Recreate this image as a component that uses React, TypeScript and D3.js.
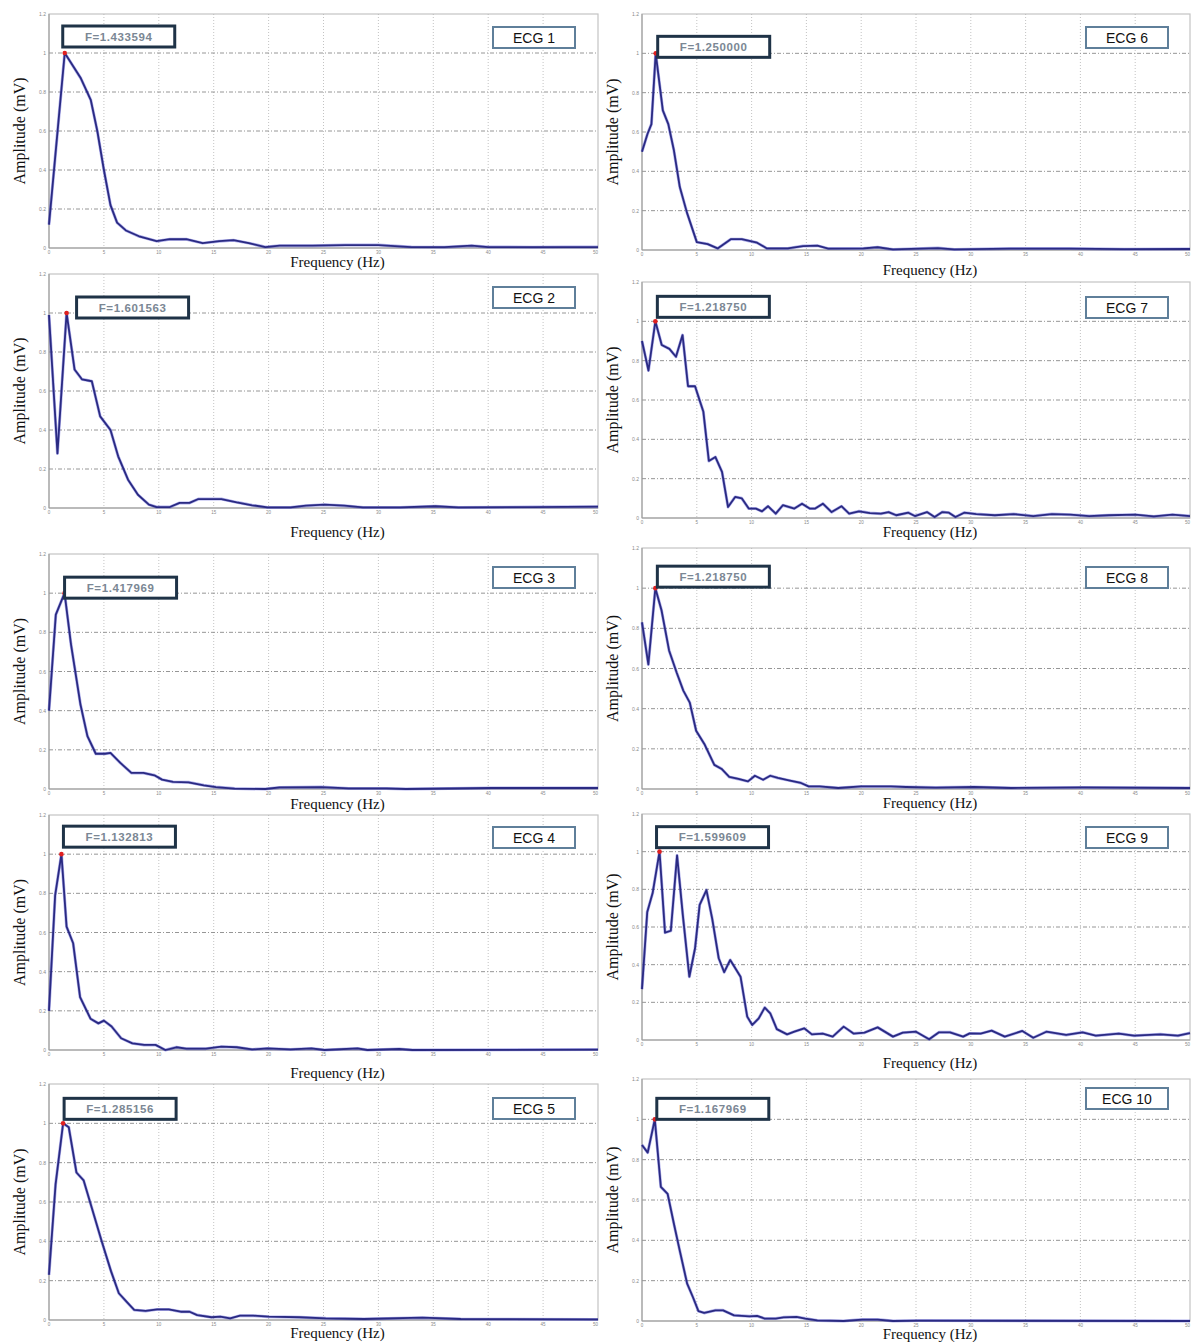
import React from 'react'
import * as d3 from 'd3'

// peak frequency (Hz) of each spectrum, as printed in the F= boxes
const peakFreqs = [1.433594, 1.601563, 1.417969, 1.132813, 1.285156, 1.25, 1.21875, 1.21875, 1.599609, 1.167969]
const ecgNames = ['ECG 1', 'ECG 2', 'ECG 3', 'ECG 4', 'ECG 5', 'ECG 6', 'ECG 7', 'ECG 8', 'ECG 9', 'ECG 10']

const yTicks = [0, 0.2, 0.4, 0.6, 0.8, 1, 1.2]
const xTicks = [0, 5, 10, 15, 20, 25, 30, 35, 40, 45, 50]

// [frequency Hz, normalised amplitude]
const ecg1 = [[0, 0.12], [1.433594, 1.0], [2.9, 0.87], [3.8, 0.76], [4.4, 0.6], [5.0, 0.4], [5.6, 0.22], [6.2, 0.13], [7.0, 0.09], [8.2, 0.06], [9.8, 0.035], [11, 0.045], [12.5, 0.045], [14, 0.025], [15.5, 0.035], [16.8, 0.04], [18.2, 0.025], [19.7, 0.005], [21, 0.012], [24, 0.012], [27, 0.015], [30, 0.015], [33, 0.005], [36, 0.004], [38.5, 0.012], [40, 0.005], [44, 0.004], [47, 0.005], [50, 0.005]]
const ecg2 = [[0, 0.99], [0.77, 0.28], [1.601563, 1.0], [2.33, 0.71], [3.0, 0.66], [3.9, 0.65], [4.66, 0.47], [5.6, 0.4], [6.3, 0.265], [7.2, 0.145], [8.1, 0.068], [9.1, 0.017], [9.8, 0.005], [11, 0.005], [11.9, 0.026], [12.8, 0.026], [13.6, 0.046], [15.7, 0.046], [17.1, 0.029], [18.5, 0.014], [19.9, 0.003], [22, 0.003], [23.4, 0.012], [25.1, 0.017], [26.9, 0.012], [28.6, 0.003], [32, 0.003], [35.2, 0.009], [37.3, 0.003], [44, 0.005], [50, 0.007]]
const ecg3 = [[0, 0.4], [0.62, 0.89], [1.417969, 1.0], [2, 0.74], [2.87, 0.43], [3.5, 0.27], [4.26, 0.18], [5.1, 0.18], [5.6, 0.184], [6.5, 0.133], [7.5, 0.082], [8.6, 0.082], [9.6, 0.07], [10.3, 0.048], [11.3, 0.036], [12.7, 0.034], [14.1, 0.019], [15.2, 0.01], [16.9, 0.002], [19.7, 0.0], [21, 0.008], [24.8, 0.01], [27.3, 0.003], [30.7, 0.003], [32.5, 0], [40.4, 0.005], [50, 0.005]]
const ecg4 = [[0, 0.2], [0.56, 0.79], [1.132813, 1.0], [1.6, 0.63], [2.2, 0.545], [2.83, 0.27], [3.78, 0.16], [4.5, 0.136], [5, 0.15], [5.7, 0.12], [6.57, 0.06], [7.6, 0.034], [8.67, 0.026], [9.7, 0.026], [10.6, 0.0], [11.6, 0.014], [12.5, 0.007], [14.3, 0.007], [15.7, 0.017], [17.1, 0.014], [18.5, 0.003], [19.9, 0.008], [22, 0.003], [23.9, 0.008], [25.1, 0], [28.1, 0.008], [29, 0], [31.9, 0.005], [33.1, 0], [50, 0.002]]
const ecg5 = [[0, 0.23], [0.6, 0.69], [1.285156, 1.0], [1.8, 0.98], [2.5, 0.75], [3.15, 0.71], [3.9, 0.57], [4.8, 0.4], [5.66, 0.246], [6.36, 0.136], [7.06, 0.093], [7.76, 0.051], [8.8, 0.046], [9.86, 0.054], [10.9, 0.054], [12, 0.042], [12.8, 0.042], [13.5, 0.025], [14.8, 0.014], [15.6, 0.017], [16.5, 0.0085], [17.4, 0.022], [18.6, 0.022], [20, 0.017], [22.8, 0.014], [25.2, 0.0085], [28.7, 0.005], [34, 0.012], [37.5, 0.005], [50, 0.003]]
const ecg6 = [[0, 0.5], [0.5, 0.59], [0.86, 0.64], [1.25, 1.0], [1.9, 0.71], [2.4, 0.64], [2.9, 0.51], [3.45, 0.32], [4.1, 0.19], [5.0, 0.04], [6.0, 0.03], [6.9, 0.008], [8.1, 0.055], [9.1, 0.055], [10.5, 0.037], [11.4, 0.008], [13.3, 0.008], [14.7, 0.02], [16, 0.022], [17, 0.007], [20.2, 0.008], [21.5, 0.014], [22.9, 0.003], [27, 0.01], [28.5, 0.003], [33.6, 0.007], [39, 0.007], [44, 0.004], [50, 0.005]]
const ecg7 = [[0, 0.9], [0.59, 0.75], [1.21875, 1.0], [1.8, 0.88], [2.5, 0.86], [3.1, 0.82], [3.7, 0.93], [4.2, 0.67], [4.84, 0.67], [5.6, 0.54], [6.1, 0.29], [6.7, 0.31], [7.3, 0.235], [7.85, 0.056], [8.5, 0.107], [9.1, 0.1], [9.74, 0.048], [10.4, 0.048], [10.95, 0.034], [11.5, 0.06], [12.2, 0.022], [12.85, 0.065], [13.9, 0.048], [14.6, 0.073], [15.3, 0.048], [15.8, 0.048], [16.5, 0.073], [17.3, 0.03], [18.2, 0.06], [18.9, 0.022], [19.8, 0.034], [20.8, 0.025], [21.8, 0.022], [22.5, 0.03], [23.2, 0.014], [24.3, 0.027], [24.9, 0.01], [26, 0.03], [26.7, 0.005], [27.4, 0.03], [28, 0.027], [28.6, 0.005], [29.4, 0.027], [30.5, 0.02], [32.2, 0.014], [33.9, 0.02], [35.7, 0.01], [37.4, 0.02], [39.1, 0.017], [40.8, 0.01], [42.6, 0.014], [45, 0.017], [46.7, 0.008], [48.4, 0.017], [50, 0.01]]
const ecg8 = [[0, 0.83], [0.58, 0.62], [1.21875, 1.0], [1.78, 0.89], [2.47, 0.69], [3.16, 0.58], [3.77, 0.49], [4.36, 0.43], [4.94, 0.29], [5.73, 0.22], [6.6, 0.12], [7.27, 0.1], [7.96, 0.06], [8.8, 0.05], [9.67, 0.038], [10.3, 0.066], [11.05, 0.046], [11.7, 0.066], [12.4, 0.055], [13.4, 0.043], [14.5, 0.03], [15.2, 0.013], [16.2, 0.013], [17.9, 0.005], [20, 0.013], [22.7, 0.013], [24.1, 0.01], [26.8, 0.007], [30.3, 0.01], [33.7, 0.005], [40.2, 0.008], [50, 0.005]]
const ecg9 = [[0, 0.27], [0.48, 0.68], [0.97, 0.78], [1.599609, 1.0], [2.1, 0.57], [2.63, 0.58], [3.2, 0.98], [3.73, 0.66], [4.32, 0.336], [4.84, 0.487], [5.26, 0.717], [5.88, 0.796], [6.4, 0.646], [7.0, 0.434], [7.5, 0.36], [8.05, 0.425], [8.99, 0.336], [9.6, 0.124], [10.06, 0.08], [10.65, 0.115], [11.2, 0.172], [11.7, 0.142], [12.3, 0.058], [13.24, 0.03], [13.9, 0.044], [14.8, 0.062], [15.5, 0.03], [16.5, 0.034], [17.4, 0.018], [18.4, 0.071], [19.3, 0.034], [20.3, 0.039], [21.5, 0.067], [22.9, 0.018], [23.8, 0.039], [25, 0.044], [26.2, 0.004], [27.1, 0.041], [28.1, 0.041], [29.3, 0.018], [29.9, 0.035], [30.9, 0.034], [31.9, 0.05], [33.1, 0.018], [34.7, 0.048], [35.7, 0.012], [36.9, 0.044], [38.7, 0.027], [40.2, 0.041], [41.4, 0.023], [43.5, 0.034], [44.9, 0.023], [47.3, 0.03], [48.9, 0.023], [50, 0.037]]
const ecg10 = [[0, 0.873], [0.52, 0.835], [1.167969, 1.0], [1.72, 0.665], [2.34, 0.63], [2.92, 0.48], [3.44, 0.35], [4.12, 0.185], [4.64, 0.119], [5.15, 0.049], [5.67, 0.04], [6.7, 0.053], [7.4, 0.053], [8.4, 0.028], [9.8, 0.023], [10.5, 0.025], [11.2, 0.012], [12.2, 0.012], [12.9, 0.018], [14.1, 0.02], [14.9, 0.012], [16, 0.003], [18.4, 0], [20.1, 0.007], [21.5, 0.007], [22.9, 0], [25.3, 0.002], [50, 0]]

const spectra = [ecg1, ecg2, ecg3, ecg4, ecg5, ecg6, ecg7, ecg8, ecg9, ecg10]

// panel placement on the page (plot box, x label row, F box offset from peak, ECG box offset from top)
const layout = [
  { x0: 49, x1: 598, top: 14, bottom: 248, labelY: 267, f: [-2, -27], e: 13 },
  { x0: 49, x1: 598, top: 274, bottom: 508, labelY: 537, f: [10, -16], e: 13 },
  { x0: 49, x1: 598, top: 554, bottom: 789, labelY: 809, f: [0, -16], e: 13 },
  { x0: 49, x1: 598, top: 815, bottom: 1050, labelY: 1078, f: [2, -28], e: 12 },
  { x0: 49, x1: 598, top: 1084, bottom: 1320, labelY: 1338, f: [1, -25], e: 14 },
  { x0: 642, x1: 1190, top: 14, bottom: 250, labelY: 275, f: [2, -17], e: 13 },
  { x0: 642, x1: 1190, top: 282, bottom: 518, labelY: 537, f: [2, -25], e: 15 },
  { x0: 642, x1: 1190, top: 548, bottom: 789, labelY: 808, f: [2, -22], e: 19 },
  { x0: 642, x1: 1190, top: 814, bottom: 1040, labelY: 1068, f: [-3, -25], e: 13 },
  { x0: 642, x1: 1190, top: 1079, bottom: 1321, labelY: 1339, f: [2, -21], e: 9 },
]

const lineColor = '#2a2a82'

function Panel({ i }: { i: number }) {
  const L = layout[i]
  const data = spectra[i] as [number, number][]
  const x = d3.scaleLinear().domain([0, 50]).range([L.x0, L.x1])
  const y = d3.scaleLinear().domain([0, 1.2]).range([L.bottom, L.top])
  const line = d3.line<[number, number]>().x(d => x(d[0])).y(d => y(d[1]))
  const px = x(peakFreqs[i])
  const py = y(1)
  const labelX = (L.x0 + L.x1) / 2 + 14
  return (
    <g>
      <rect x={L.x0} y={L.top} width={L.x1 - L.x0} height={L.bottom - L.top} fill="#fff" stroke="#c4c4c4" strokeWidth={1.2} />
      {xTicks.slice(1, -1).map(t => (
        <line key={'vx' + t} x1={x(t)} x2={x(t)} y1={L.top} y2={L.bottom} stroke="#b4b4b4" strokeWidth={0.8} strokeDasharray="1,2" />
      ))}
      {yTicks.slice(1, -1).map(t => (
        <line key={'hy' + t} x1={L.x0} x2={L.x1} y1={y(t)} y2={y(t)} stroke="#8a8a8a" strokeWidth={0.9} strokeDasharray="4,2,1,2" />
      ))}
      <line x1={L.x0} x2={L.x1} y1={L.bottom} y2={L.bottom} stroke="#999" strokeWidth={1} />
      <line x1={L.x0} x2={L.x0} y1={L.top} y2={L.bottom} stroke="#999" strokeWidth={1} />
      {yTicks.map(t => (
        <text key={'yl' + t} x={L.x0 - 3} y={y(t) + 2} fontSize={5} fill="#8a8a8a" textAnchor="end" fontFamily="Liberation Sans">{t}</text>
      ))}
      {xTicks.map((t, k) => (
        <text key={'xl' + t} x={x(t)} y={L.bottom + 6} fontSize={4.5} fill="#8a8a8a"
          textAnchor={k === xTicks.length - 1 ? 'end' : 'middle'} fontFamily="Liberation Sans">{t}</text>
      ))}
      <path d={line(data) || ''} fill="none" stroke="#4a4ad0" strokeOpacity={0.45} strokeWidth={3} strokeLinejoin="round" />
      <path d={line(data) || ''} fill="none" stroke={lineColor} strokeWidth={1.8} strokeLinejoin="round" />
      <circle cx={px} cy={py} r={2.3} fill="#e02020" />
      <rect x={px + L.f[0]} y={py + L.f[1]} width={112} height={21} fill="#fff" stroke="#1f3347" strokeWidth={3} />
      <text x={px + L.f[0] + 56} y={py + L.f[1] + 14.5} fontSize={11.5} fontWeight="bold" fill="#7b8794" textAnchor="middle" fontFamily="Liberation Sans" letterSpacing={0.6}>
        {'F=' + peakFreqs[i].toFixed(6)}
      </text>
      <rect x={L.x0 + 444} y={L.top + L.e} width={82} height={21} fill="#fff" stroke="#5f7f9a" strokeWidth={2} />
      <text x={L.x0 + 485} y={L.top + L.e + 15.5} fontSize={14} fill="#111" textAnchor="middle" fontFamily="Liberation Sans">{ecgNames[i]}</text>
      <text x={labelX} y={L.labelY} fontSize={15} fill="#111" textAnchor="middle" fontFamily="Liberation Serif">Frequency (Hz)</text>
      <text transform={`translate(${L.x0 - 24},${(L.top + L.bottom) / 2}) rotate(-90)`} fontSize={16} fill="#111" textAnchor="middle" fontFamily="Liberation Serif">Amplitude (mV)</text>
    </g>
  )
}

export default function App() {
  return (
    <svg width={1191} height={1342} style={{ position: 'absolute', left: 0, top: 0, background: '#fff' }}>
      <rect width={1191} height={1342} fill="#fff" />
      {spectra.map((_, i) => <Panel key={i} i={i} />)}
    </svg>
  )
}
